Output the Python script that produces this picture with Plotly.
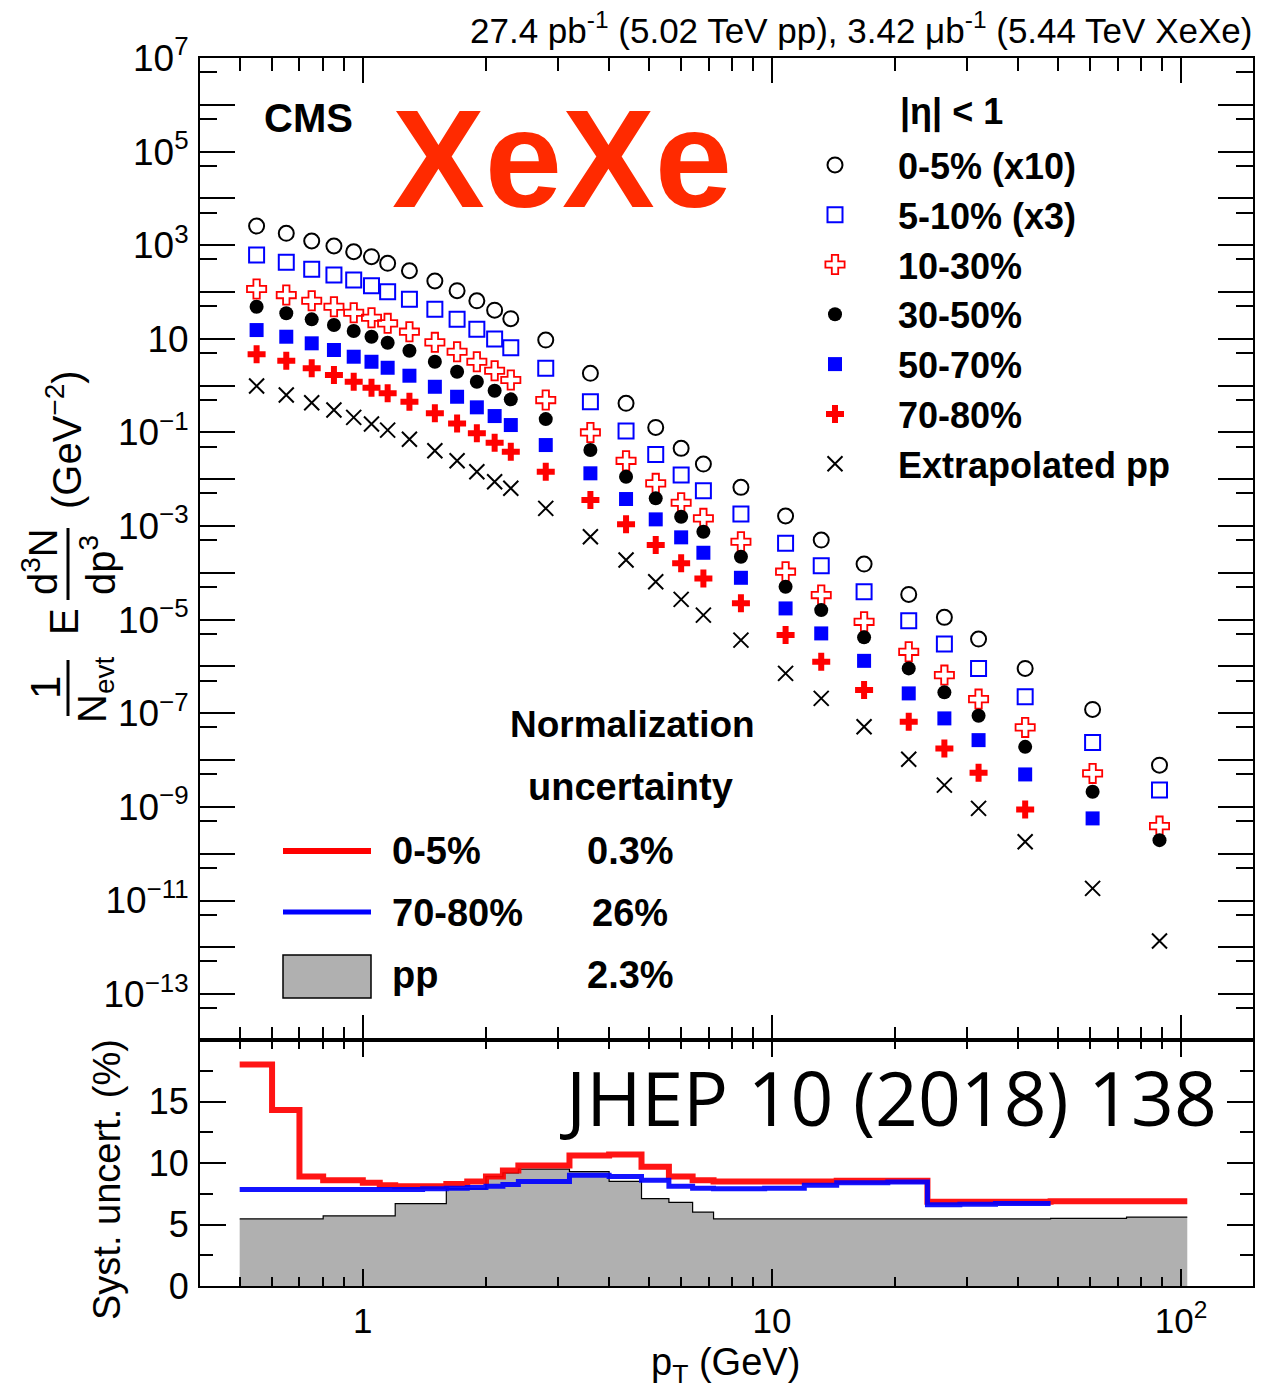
import plotly.graph_objects as go

# ---------------- data ----------------
pt_edges = [0.5, 0.6, 0.7, 0.8, 0.9, 1.0, 1.1, 1.2, 1.4, 1.6, 1.8, 2.0, 2.2, 2.4, 3.2, 4.0, 4.8,
            5.6, 6.4, 7.2, 9.6, 12.0, 14.4, 19.2, 24.0, 28.8, 35.2, 48.0, 73.6, 103.6]
pt_centers = [0.55, 0.65, 0.75, 0.85, 0.95, 1.05, 1.15, 1.3, 1.5, 1.7, 1.9, 2.1, 2.3, 2.8, 3.6, 4.4,
              5.2, 6.0, 6.8, 8.4, 10.8, 13.2, 16.8, 21.6, 26.4, 32.0, 41.6, 60.8, 88.6]

spec_0_5_x10 = [2570, 1795, 1230, 962, 726, 568, 410, 285, 172, 107, 65, 41, 26.9, 9.4, 1.83, 0.419,
                0.128, 0.0457, 0.0211, 0.00671, 1.64e-3, 5.02e-4, 1.54e-4, 3.47e-5, 1.12e-5, 3.85e-6,
                9.1e-7, 1.21e-7, 7.8e-9]
spec_5_10_x3 = [618, 431, 305, 231, 180, 136, 101, 69.8, 42.7, 26.1, 16.0, 9.9, 6.46, 2.34, 0.453,
                0.107, 0.0340, 0.0123, 0.00568, 0.00180, 4.27e-4, 1.42e-4, 3.94e-5, 9.46e-6, 3.01e-6,
                9.1e-7, 2.25e-7, 2.39e-8, 2.29e-9]
spec_10_30 = [116, 86.3, 65.2, 48.5, 36.1, 28.2, 21.4, 14.2, 8.41, 5.30, 3.24, 2.08, 1.32, 0.492,
              0.100, 0.0248, 0.00817, 0.00315, 0.00146, 4.62e-4, 1.06e-4, 3.36e-5, 9.0e-6, 2.06e-6,
              6.55e-7, 2.01e-7, 5.0e-8, 5.2e-9, 3.89e-10]
spec_30_50 = [48.5, 35.1, 26.1, 19.7, 14.7, 11.1, 8.26, 5.57, 3.24, 1.98, 1.21, 0.778, 0.509, 0.193,
              0.0421, 0.0113, 0.00391, 0.00158, 7.55e-4, 2.21e-4, 5.05e-5, 1.60e-5, 4.19e-6, 9.1e-7,
              2.80e-7, 8.85e-8, 1.92e-8, 2.10e-9, 1.95e-10]
spec_50_70 = [15.4, 11.1, 8.02, 5.77, 4.15, 3.24, 2.41, 1.63, 0.946, 0.579, 0.344, 0.224, 0.144,
              0.0538, 0.0134, 0.00378, 0.00139, 5.74e-4, 2.69e-4, 7.85e-5, 1.74e-5, 5.09e-6, 1.32e-6,
              2.66e-7, 7.78e-8, 2.67e-8, 4.94e-9, 5.68e-10, None]
spec_70_80 = [4.67, 3.40, 2.34, 1.68, 1.21, 0.902, 0.684, 0.453, 0.256, 0.156, 0.0957, 0.0603,
              0.0387, 0.0145, 0.00360, 0.00110, 3.93e-4, 1.60e-4, 7.62e-5, 2.23e-5, 4.69e-6, 1.26e-6,
              3.13e-7, 6.58e-8, 1.78e-8, 5.36e-9, 8.85e-10, None, None]
spec_pp = [0.980, 0.630, 0.431, 0.301, 0.210, 0.151, 0.112, 0.0713, 0.0406, 0.0248, 0.0145, 0.00885,
           0.00640, 0.00239, 5.90e-4, 1.88e-4, 6.46e-5, 2.72e-5, 1.25e-5, 3.66e-6, 7.13e-7, 2.08e-7,
           5.15e-8, 1.04e-8, 2.92e-9, 9.29e-10, 1.80e-10, 1.82e-11, 1.36e-12]

syst_0_5 = [18.0, 14.3, 8.9, 8.6, 8.6, 8.4, 8.2, 8.1, 8.1, 8.3, 8.5, 8.9, 9.4, 9.8, 10.6, 10.7, 9.7,
            8.9, 8.6, 8.5, 8.5, 8.5, 8.55, 8.55, 6.85, 6.85, 6.85, 6.9, 6.9]
syst_70_80 = [7.85, 7.85, 7.85, 7.85, 7.85, 7.85, 7.85, 7.85, 7.9, 7.95, 8.0, 8.1, 8.25, 8.5, 9.0,
              8.9, 8.6, 8.1, 7.95, 7.9, 7.95, 8.2, 8.4, 8.45, 6.6, 6.65, 6.7]
syst_pp = [5.45, 5.45, 5.45, 5.7, 5.7, 5.7, 5.7, 6.7, 6.7, 7.9, 7.9, 8.9, 9.2, 9.5, 9.3, 8.5, 7.1,
           6.8, 6.0, 5.45, 5.45, 5.45, 5.45, 5.45, 5.45, 5.45, 5.45, 5.5, 5.6]

series_names = ["0-5% (x10)", "5-10% (x3)", "10-30%", "30-50%", "50-70%", "70-80%", "Extrapolated pp"]
norm_labels = ["0-5%", "70-80%", "pp"]
norm_values = ["0.3%", "26%", "2.3%"]

# ---------------- figure ----------------
W, H = 1285, 1392
ML, MR, MT, MB = 200, 32, 58, 106
PW, PH = W - ML - MR, H - MT - MB


def xp(px):
    return (px - ML) / PW


def yp(py):
    return (H - MB - py) / PH


FONT = "Liberation Sans"
fig = go.Figure()

styles = [
    dict(symbol="circle-open", color="black", size=15, line=dict(width=2, color="black")),
    dict(symbol="square-open", color="blue", size=15, line=dict(width=2, color="blue")),
    dict(symbol="cross-open", color="red", size=16, line=dict(width=1.8, color="red")),
    dict(symbol="circle", color="black", size=14, line=dict(width=0)),
    dict(symbol="square", color="blue", size=14, line=dict(width=0)),
    dict(symbol="cross", color="red", size=15, line=dict(width=0)),
    dict(symbol="x-thin-open", color="black", size=15, line=dict(width=2, color="black")),
]
all_series = [spec_0_5_x10, spec_5_10_x3, spec_10_30, spec_30_50, spec_50_70, spec_70_80, spec_pp]
for i, (name, vals, st) in enumerate(zip(series_names, all_series, styles)):
    fig.add_trace(go.Scatter(x=pt_centers, y=vals, mode="markers", name=name,
                             marker=st, xaxis="x2", yaxis="y2", legendgroup=f"g{i}",
                             showlegend=True))


def step(edges, vals):
    n = len(vals)
    return edges[:n + 1], list(vals) + [vals[-1]]


sx, sy = step(pt_edges, syst_pp)
fig.add_trace(go.Scatter(x=sx, y=sy, mode="lines", line=dict(shape="hv", color="black", width=1.2),
                         fill="tozeroy", fillcolor="#b0b0b0", showlegend=False, xaxis="x", yaxis="y"))
sx, sy = step(pt_edges, syst_0_5)
fig.add_trace(go.Scatter(x=sx, y=sy, mode="lines", line=dict(shape="hv", color="rgba(255,0,0,0.92)", width=6),
                         showlegend=False, xaxis="x", yaxis="y"))
sx, sy = step(pt_edges, syst_70_80)
fig.add_trace(go.Scatter(x=sx, y=sy, mode="lines", line=dict(shape="hv", color="rgba(0,0,255,0.92)", width=5),
                         showlegend=False, xaxis="x", yaxis="y"))

split = 246 / PH
x_major = [1, 10, 100]
x_minor = [0.5, 0.6, 0.7, 0.8, 0.9, 2, 3, 4, 5, 6, 7, 8, 9, 20, 30, 40, 50, 60, 70, 80, 90]
y_major = [10.0 ** k for k in range(-14, 8)]
y_text = []
for k in range(-14, 8):
    if k % 2 == 0:
        y_text.append("")
    elif k == 1:
        y_text.append("10")
    elif k < 0:
        y_text.append("10<sup>\u2212%d</sup>" % (-k))
    else:
        y_text.append("10<sup>%d</sup>" % k)
y_minor = [5 * 10.0 ** k for k in range(-14, 7)]

axis_common = dict(showgrid=False, zeroline=False, showline=True, linecolor="black", linewidth=2,
                   mirror="ticks", ticks="inside", tickcolor="black", tickwidth=2)
xrange = [-0.398, 2.176]

fig.update_layout(
    width=W, height=H, margin=dict(l=ML, r=MR, t=MT, b=MB),
    paper_bgcolor="white", plot_bgcolor="white",
    font=dict(family=FONT, color="black", size=34),
    xaxis=dict(type="log", range=xrange, domain=[0, 1], anchor="y",
               tickmode="array", tickvals=x_major, ticktext=["1", "10", "10<sup>2</sup>"], ticklen=17,
               tickfont=dict(size=35), ticklabelstandoff=3,
               minor=dict(tickmode="array", tickvals=x_minor, ticks="inside", ticklen=9,
                          tickcolor="black", tickwidth=2),
               **axis_common),
    yaxis=dict(range=[0, 20], domain=[0, split], anchor="x",
               tickmode="array", tickvals=[0, 5, 10, 15], ticklen=26, tickfont=dict(size=36),
               ticklabelstandoff=2,
               minor=dict(tickmode="array", tickvals=[2.5, 7.5, 12.5, 17.5], ticks="inside", ticklen=13,
                          tickcolor="black", tickwidth=2),
               **axis_common),
    xaxis2=dict(type="log", range=xrange, domain=[0, 1], anchor="y2", matches="x",
                tickmode="array", tickvals=x_major, ticklen=25, showticklabels=False,
                minor=dict(tickmode="array", tickvals=x_minor, ticks="inside", ticklen=13,
                           tickcolor="black", tickwidth=2),
                **axis_common),
    yaxis2=dict(type="log", range=[-13.98, 7], domain=[split, 1], anchor="x2",
                tickmode="array", tickvals=y_major, ticktext=y_text, ticklen=35,
                tickfont=dict(size=37), ticklabelstandoff=2,
                minor=dict(tickmode="array", tickvals=y_minor, ticks="inside", ticklen=17,
                           tickcolor="black", tickwidth=2),
                **axis_common),
    legend=dict(x=xp(772), y=yp(135), xanchor="left", yanchor="top", bgcolor="rgba(0,0,0,0)",
                font=dict(family=FONT, size=36, weight="bold"), itemwidth=116, tracegroupgap=0,
                itemsizing="trace"),
    showlegend=True,
)

ann = []


def add_text(text, px, py, size, xanchor="center", yanchor="middle", bold=False, color="black",
             family=FONT, angle=0):
    ann.append(dict(text=text, x=xp(px), y=yp(py), xref="paper", yref="paper", showarrow=False,
                    xanchor=xanchor, yanchor=yanchor, textangle=angle,
                    font=dict(family=family, size=size, color=color, weight="bold" if bold else "normal")))


add_text("27.4 pb<sup>-1</sup> (5.02 TeV pp), 3.42 \u03bcb<sup>-1</sup> (5.44 TeV XeXe)", 1254, 28, 35,
         xanchor="right")
add_text("CMS", 308, 118, 40, bold=True)
add_text("XeXe", 562, 158, 139, bold=True, color="#ff2a00")
add_text("|\u03b7| < 1", 898, 112, 36, xanchor="left", bold=True)
add_text("Normalization", 632, 724, 37, bold=True)
add_text("uncertainty", 630, 787, 38, bold=True)
for lbl, val, py in zip(norm_labels, norm_values, [851, 913, 975]):
    add_text(lbl, 390, py, 38, xanchor="left", bold=True)
    add_text(val, 630, py, 38, bold=True)
add_text("JHEP 10 (2018) 138", 1219, 1097, 75, xanchor="right", family="Open Sans")
add_text("p<sub>T</sub> (GeV)", 725, 1365, 38)
add_text("Syst. uncert. (%)", 107, 1180, 38, angle=-90)
# composite y-axis title of the spectrum panel
add_text("1", 45, 688, 42, angle=-90)
add_text("N<sub>evt</sub>", 95, 690, 40, angle=-90)
add_text("E", 64, 622, 40, angle=-90)
add_text("d<sup>3</sup>N", 40, 562, 40, angle=-90)
add_text("dp<sup>3</sup>", 98, 565, 40, angle=-90)
add_text("(GeV<sup>\u22122</sup>)", 64, 440, 40, angle=-90)
fig.update_layout(annotations=ann)

shapes = [
    dict(type="line", xref="paper", yref="paper", x0=xp(68), x1=xp(68), y0=yp(660), y1=yp(716),
         line=dict(color="black", width=3)),
    dict(type="line", xref="paper", yref="paper", x0=xp(68), x1=xp(68), y0=yp(528), y1=yp(600),
         line=dict(color="black", width=3)),
    # normalization-uncertainty legend keys
    dict(type="line", xref="paper", yref="paper", x0=xp(283), x1=xp(371), y0=yp(851), y1=yp(851),
         line=dict(color="red", width=6)),
    dict(type="line", xref="paper", yref="paper", x0=xp(283), x1=xp(371), y0=yp(912), y1=yp(912),
         line=dict(color="blue", width=5)),
    dict(type="rect", xref="paper", yref="paper", x0=xp(283), x1=xp(371), y0=yp(998), y1=yp(955),
         fillcolor="#b0b0b0", line=dict(color="black", width=1.5)),
]
fig.update_layout(shapes=shapes)

fig.write_html("out.html")
